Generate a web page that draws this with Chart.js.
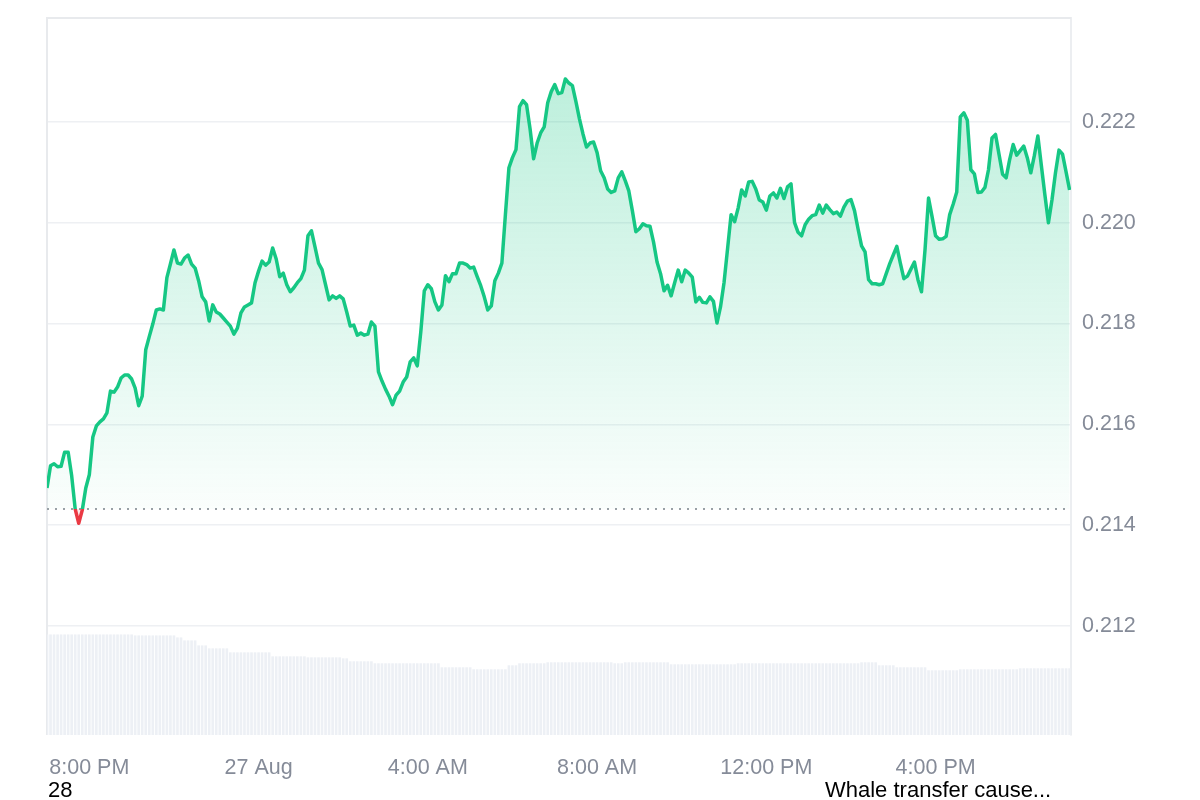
<!DOCTYPE html>
<html>
<head>
<meta charset="utf-8">
<title>Price chart</title>
<script src="https://cdn.jsdelivr.net/npm/chart.js@4.4.1/dist/chart.umd.min.js"></script>
<style>
  html, body { margin: 0; padding: 0; background: #fff; }
  #wrap { position: relative; width: 1200px; height: 800px; }
  canvas { display: block; }
  .note {
    position: absolute; top: 779px;
    font: 22px "Liberation Sans", Arial, sans-serif; line-height: 22px;
    color: #000; white-space: nowrap;
  }
  #noteLeft { left: 48px; }
  #noteRight { left: 825px; }
</style>
</head>
<body>
<div id="wrap">
  <canvas id="chart" width="1200" height="800"></canvas>
  <div class="note" id="noteLeft"></div>
  <div class="note" id="noteRight"></div>
</div>
<script>
/* ======================
   DATA
====================== */
// one point every 5 minutes, starting 7:00 PM (26 Aug)
const stepMinutes = 5
const xMaxMinutes = 1452

const prices = [
  0.21474, 0.21518, 0.21522, 0.21516, 0.21517, 0.21545, 0.21545, 0.21498, 0.21432, 0.21404,
  0.21430, 0.21474, 0.21500, 0.21575, 0.21597, 0.21605, 0.21611, 0.21623, 0.21666, 0.21664,
  0.21674, 0.21692, 0.21698, 0.21698, 0.21690, 0.21672, 0.21637, 0.21656, 0.21748, 0.21774,
  0.21799, 0.21827, 0.21829, 0.21827, 0.21891, 0.21918, 0.21946, 0.21920, 0.21918, 0.21930,
  0.21936, 0.21918, 0.21910, 0.21885, 0.21853, 0.21843, 0.21805, 0.21837, 0.21823, 0.21819,
  0.21811, 0.21803, 0.21795, 0.21779, 0.21791, 0.21821, 0.21833, 0.21837, 0.21841, 0.21881,
  0.21904, 0.21924, 0.21916, 0.21922, 0.21950, 0.21928, 0.21893, 0.21900, 0.21877, 0.21863,
  0.21871, 0.21881, 0.21889, 0.21906, 0.21974, 0.21984, 0.21952, 0.21920, 0.21907, 0.21877,
  0.21847, 0.21855, 0.21850, 0.21855, 0.21849, 0.21823, 0.21795, 0.21797, 0.21777, 0.21781,
  0.21777, 0.21779, 0.21803, 0.21795, 0.21704, 0.21686, 0.21670, 0.21656, 0.21639, 0.21658,
  0.21666, 0.21684, 0.21694, 0.21724, 0.21732, 0.21716, 0.21783, 0.21865, 0.21877, 0.21869,
  0.21843, 0.21827, 0.21837, 0.21895, 0.21883, 0.21899, 0.21899, 0.21920, 0.21920, 0.21917,
  0.21910, 0.21912, 0.21893, 0.21875, 0.21853, 0.21827, 0.21835, 0.21885, 0.21900, 0.21920,
  0.22016, 0.22109, 0.22129, 0.22145, 0.22230, 0.22242, 0.22234, 0.22186, 0.22127, 0.22158,
  0.22178, 0.22190, 0.22238, 0.22260, 0.22274, 0.22256, 0.22258, 0.22285, 0.22277, 0.22272,
  0.22240, 0.22206, 0.22176, 0.22150, 0.22158, 0.22160, 0.22139, 0.22103, 0.22089, 0.22067,
  0.22060, 0.22063, 0.22089, 0.22101, 0.22083, 0.22063, 0.22024, 0.21982, 0.21988, 0.21998,
  0.21994, 0.21993, 0.21962, 0.21922, 0.21899, 0.21865, 0.21876, 0.21855, 0.21881, 0.21906,
  0.21883, 0.21906, 0.21900, 0.21892, 0.21843, 0.21852, 0.21842, 0.21841, 0.21853, 0.21844,
  0.21801, 0.21833, 0.21881, 0.21948, 0.22016, 0.22002, 0.22029, 0.22065, 0.22053, 0.22081,
  0.22082, 0.22067, 0.22045, 0.22041, 0.22025, 0.22053, 0.22059, 0.22049, 0.22068, 0.22048,
  0.22071, 0.22077, 0.22000, 0.21981, 0.21974, 0.21996, 0.22007, 0.22014, 0.22016, 0.22035,
  0.22019, 0.22035, 0.22026, 0.22018, 0.22021, 0.22013, 0.22031, 0.22043, 0.22046, 0.22024,
  0.21988, 0.21954, 0.21942, 0.21887, 0.21879, 0.21879, 0.21877, 0.21879, 0.21899, 0.21919,
  0.21936, 0.21953, 0.21920, 0.21889, 0.21894, 0.21908, 0.21922, 0.21887, 0.21863, 0.21946,
  0.22049, 0.22012, 0.21974, 0.21967, 0.21968, 0.21973, 0.22016, 0.22037, 0.22061, 0.22210,
  0.22218, 0.22203, 0.22105, 0.22097, 0.22060, 0.22061, 0.22070, 0.22105, 0.22168, 0.22175,
  0.22135, 0.22096, 0.22089, 0.22125, 0.22155, 0.22134, 0.22143, 0.22152, 0.22129, 0.22099,
  0.22133, 0.22172, 0.22113, 0.22055, 0.22000, 0.22045, 0.22099, 0.22144, 0.22136, 0.22101,
  0.22065
]

// volume (arbitrary units), same timestamps
const volumes = [
  101, 101, 101, 101, 101, 101, 101, 101, 101, 101,
  101, 101, 101, 101, 101, 101, 101, 101, 101, 101,
  101, 101, 101, 101, 101, 100, 100, 100, 100, 100,
  100, 100, 100, 100, 100, 100, 100, 98, 98, 95,
  95, 95, 95, 90, 90, 90, 87, 87, 87, 87,
  87, 87, 83, 83, 83, 83, 83, 83, 83, 83,
  83, 83, 83, 83, 79, 79, 79, 79, 79, 79,
  79, 79, 79, 79, 78, 78, 78, 78, 78, 78,
  78, 78, 78, 78, 77, 77, 74, 74, 74, 74,
  74, 74, 74, 72, 72, 72, 72, 72, 72, 72,
  72, 72, 72, 72, 72, 72, 72, 72, 72, 72,
  72, 72, 68, 68, 68, 68, 68, 68, 68, 68,
  68, 66, 66, 66, 66, 66, 66, 66, 66, 66,
  66, 70, 70, 70, 72, 72, 72, 72, 72, 72,
  72, 72, 73, 73, 73, 73, 73, 73, 73, 73,
  73, 73, 73, 73, 73, 73, 73, 73, 73, 73,
  73, 72, 72, 72, 73, 73, 73, 73, 73, 73,
  73, 73, 73, 73, 73, 73, 73, 71, 71, 71,
  71, 71, 71, 71, 71, 71, 71, 71, 71, 71,
  71, 71, 71, 71, 71, 71, 72, 72, 72, 72,
  72, 72, 72, 72, 72, 72, 72, 72, 72, 72,
  72, 72, 72, 72, 72, 72, 72, 72, 72, 72,
  72, 72, 72, 72, 72, 72, 72, 72, 72, 72,
  72, 73, 73, 73, 73, 73, 70, 70, 70, 70,
  70, 68, 68, 68, 68, 68, 68, 68, 68, 68,
  65, 65, 65, 65, 65, 65, 65, 65, 65, 66,
  66, 66, 66, 66, 66, 66, 66, 66, 66, 66,
  66, 66, 66, 66, 66, 66, 67, 67, 67, 67,
  67, 67, 67, 67, 67, 67, 67, 67, 67, 67,
  67
]

const baseline = 0.21432
const yTicks = [0.212, 0.214, 0.216, 0.218, 0.220, 0.222]
const xTickMinutes = [60, 300, 540, 780, 1020, 1260]
const xTickLabels = ["8:00 PM", "27 Aug", "4:00 AM", "8:00 AM", "12:00 PM", "4:00 PM"]
const notes = ["28", "Whale transfer cause..."]

/* ======================
   STYLE
====================== */
const GREEN = "#16c784"
const RED = "#ea3943"
const TICK_COLOR = "#858b98"
const FONT = { family: "'Liberation Sans', Arial, sans-serif", size: 21.5 }

const $ = (id) => document.getElementById(id)
$("noteLeft").textContent = notes[0]
$("noteRight").textContent = notes[1]

const minutes = prices.map((_, i) => i * stepMinutes)

// vertical gradient split at the baseline price
function splitGradient(chart, above, below) {
  const { chartArea, scales, ctx } = chart
  const yb = scales.y.getPixelForValue(baseline)
  const h = chartArea.bottom - chartArea.top
  const r = Math.min(Math.max((yb - chartArea.top) / h, 0), 1)
  const g = ctx.createLinearGradient(0, chartArea.top, 0, chartArea.bottom)
  g.addColorStop(0, above[0])
  g.addColorStop(r, above[1])
  g.addColorStop(r, below[0])
  g.addColorStop(1, below[1])
  return g
}

/* ---------- frame + dotted baseline ---------- */
const framePlugin = {
  id: "frame",
  beforeDatasetsDraw(chart) {
    const { ctx, chartArea: a, scales } = chart
    ctx.save()
    ctx.strokeStyle = "#e8eaed"
    ctx.lineWidth = 2
    ctx.beginPath()
    ctx.moveTo(a.left, a.bottom)
    ctx.lineTo(a.left, a.top)
    ctx.lineTo(a.right, a.top)
    ctx.stroke()

    const yb = scales.y.getPixelForValue(baseline)
    ctx.setLineDash([2, 6])
    ctx.strokeStyle = "#9aa0a6"
    ctx.lineWidth = 2
    ctx.beginPath()
    ctx.moveTo(a.left, yb)
    ctx.lineTo(a.right, yb)
    ctx.stroke()
    ctx.restore()
  }
}

/* ======================
   CHART
====================== */
new Chart($("chart"), {
  type: "bar",
  data: {
    datasets: [
      {
        type: "line",
        data: prices.map((p, i) => ({ x: minutes[i], y: p })),
        yAxisID: "y",
        order: 1,
        borderWidth: 3.5,
        pointRadius: 0,
        tension: 0,
        borderJoinStyle: "round",
        borderColor: (c) => c.chart.chartArea
          ? splitGradient(c.chart, [GREEN, GREEN], [RED, RED])
          : GREEN,
        backgroundColor: (c) => c.chart.chartArea
          ? splitGradient(c.chart,
              ["rgba(22,199,132,0.32)", "rgba(22,199,132,0.02)"],
              ["rgba(234,57,67,0.10)", "rgba(234,57,67,0.30)"])
          : "rgba(22,199,132,0.2)",
        fill: { value: baseline }
      },
      {
        type: "bar",
        data: volumes.map((v, i) => ({ x: minutes[i], y: v })),
        yAxisID: "yv",
        order: 2,
        backgroundColor: "#edf0f5",
        barPercentage: 0.75,
        categoryPercentage: 1
      }
    ]
  },
  options: {
    responsive: false,
    animation: false,
    devicePixelRatio: 1,
    layout: { padding: { left: 47, top: 18, right: 0, bottom: 0 } },
    plugins: { legend: { display: false }, tooltip: { enabled: false } },
    scales: {
      x: {
        type: "linear",
        offset: false,
        min: 0,
        max: xMaxMinutes,
        grid: { display: false, offset: false },
        border: { display: false },
        afterBuildTicks: (s) => { s.ticks = xTickMinutes.map(v => ({ value: v })) },
        afterFit: (s) => { s.height = 65; s.paddingLeft = 0; s.paddingRight = 0 },
        ticks: {
          autoSkip: false,
          maxRotation: 0,
          padding: 12,
          color: TICK_COLOR,
          font: FONT,
          callback: (v, i) => xTickLabels[i]
        }
      },
      y: {
        position: "right",
        min: 0.20984,
        max: 0.22406,
        afterBuildTicks: (s) => { s.ticks = yTicks.map(v => ({ value: v })) },
        afterFit: (s) => { s.width = 129; s.paddingTop = 0; s.paddingBottom = 0 },
        grid: { color: "#eef0f3", lineWidth: 1.5, drawTicks: false },
        border: { color: "#eceef1", width: 2 },
        ticks: {
          padding: 11,
          color: TICK_COLOR,
          font: FONT,
          callback: (v) => v.toFixed(3)
        }
      },
      yv: { display: false, min: 0, max: 720 }
    }
  },
  plugins: [framePlugin]
})
</script>
</body>
</html>
